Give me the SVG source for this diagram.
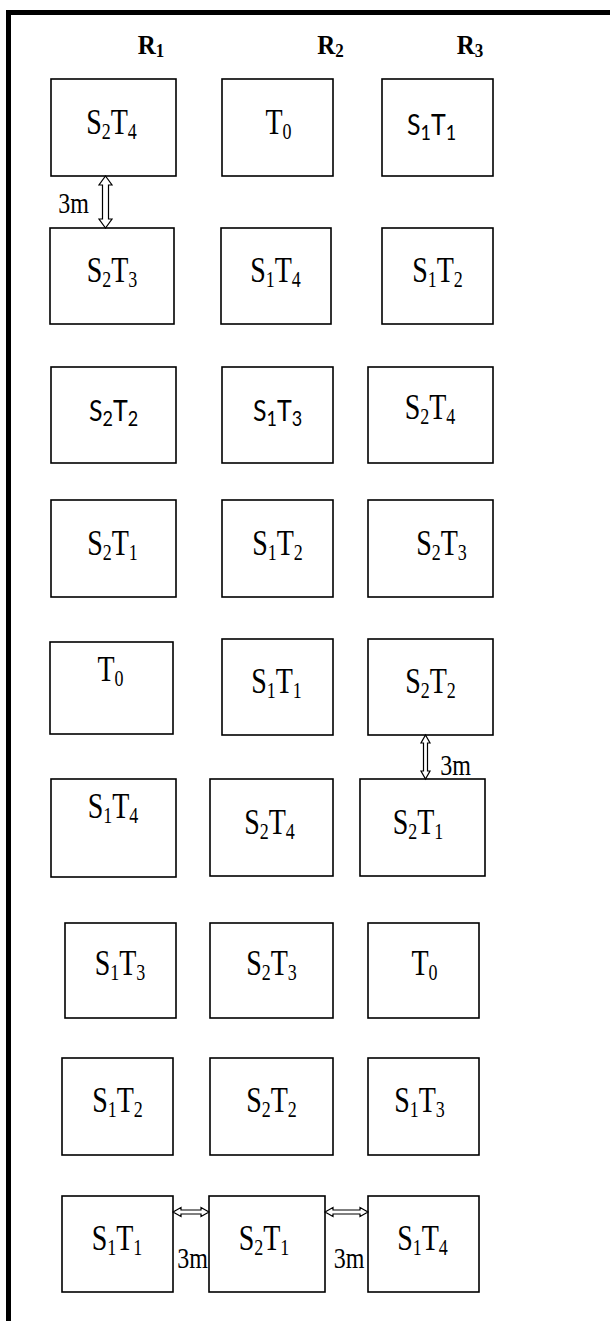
<svg xmlns="http://www.w3.org/2000/svg" width="610" height="1321" viewBox="0 0 610 1321">
<style>
.box{fill:#fff;stroke:#000;stroke-width:1.6}
.lbl{font-family:"Liberation Serif","Times New Roman",serif;font-size:28px;fill:#000}
.sans{font-family:Lato,"Liberation Sans",sans-serif;font-size:25px}
.sub{font-size:18px}
.hdr{font-family:"Liberation Serif","Times New Roman",serif;font-size:25px;font-weight:bold;fill:#000}
.hsub{font-size:17px}
.dim{font-family:"Liberation Serif","Times New Roman",serif;font-size:24px;fill:#000}
.arrow{fill:#fff;stroke:#000;stroke-width:1.2;stroke-linejoin:miter}
.frame{stroke:#000;stroke-width:5;fill:none}
</style>
<rect width="610" height="1321" fill="#fff"/>
<g id="frame">
<line class="frame" x1="6" y1="12.5" x2="610" y2="12.5"/>
<line class="frame" x1="8.5" y1="10" x2="8.5" y2="1321"/>
</g>
<g id="headers" text-anchor="middle">
<text class="hdr" transform="translate(151,54) scale(1,1.1)">R<tspan class="hsub" dy="3">1</tspan></text>
<text class="hdr" transform="translate(330.5,54) scale(1,1.1)">R<tspan class="hsub" dy="3">2</tspan></text>
<text class="hdr" transform="translate(470,54) scale(1,1.1)">R<tspan class="hsub" dy="3">3</tspan></text>
</g>
<g id="nodes" text-anchor="middle">
<g id="n1"><rect class="box" x="51" y="79" width="125" height="97"/><text class="lbl" transform="translate(111.5,134) scale(1,1.25)">S<tspan class="sub" dy="4">2</tspan><tspan dy="-4">T</tspan><tspan class="sub" dy="4">4</tspan></text></g>
<g id="n2"><rect class="box" x="222" y="79" width="111" height="97"/><text class="lbl" transform="translate(278.5,134) scale(1,1.25)">T<tspan class="sub" dy="4">0</tspan></text></g>
<g id="n3"><rect class="box" x="382" y="79" width="111" height="97"/><text class="lbl sans" transform="translate(431.5,135) scale(1,1.15)">S<tspan class="sub" dy="4">1</tspan><tspan dy="-4">T</tspan><tspan class="sub" dy="4">1</tspan></text></g>

<g id="n4"><rect class="box" x="50" y="228" width="124" height="96"/><text class="lbl" transform="translate(112,282) scale(1,1.25)">S<tspan class="sub" dy="4">2</tspan><tspan dy="-4">T</tspan><tspan class="sub" dy="4">3</tspan></text></g>
<g id="n5"><rect class="box" x="221" y="228" width="110" height="96"/><text class="lbl" transform="translate(275.5,282) scale(1,1.25)">S<tspan class="sub" dy="4">1</tspan><tspan dy="-4">T</tspan><tspan class="sub" dy="4">4</tspan></text></g>
<g id="n6"><rect class="box" x="382" y="228" width="111" height="96"/><text class="lbl" transform="translate(437.5,282) scale(1,1.25)">S<tspan class="sub" dy="4">1</tspan><tspan dy="-4">T</tspan><tspan class="sub" dy="4">2</tspan></text></g>

<g id="n7"><rect class="box" x="51" y="367" width="125" height="96"/><text class="lbl sans" transform="translate(113.5,421) scale(1,1.15)">S<tspan class="sub" dy="4">2</tspan><tspan dy="-4">T</tspan><tspan class="sub" dy="4">2</tspan></text></g>
<g id="n8"><rect class="box" x="222" y="367" width="111" height="96"/><text class="lbl sans" transform="translate(277.5,421) scale(1,1.15)">S<tspan class="sub" dy="4">1</tspan><tspan dy="-4">T</tspan><tspan class="sub" dy="4">3</tspan></text></g>
<g id="n9"><rect class="box" x="368" y="367" width="125" height="96"/><text class="lbl" transform="translate(430,419) scale(1,1.25)">S<tspan class="sub" dy="4">2</tspan><tspan dy="-4">T</tspan><tspan class="sub" dy="4">4</tspan></text></g>

<g id="n10"><rect class="box" x="51" y="500" width="125" height="97"/><text class="lbl" transform="translate(112.5,555) scale(1,1.25)">S<tspan class="sub" dy="4">2</tspan><tspan dy="-4">T</tspan><tspan class="sub" dy="4">1</tspan></text></g>
<g id="n11"><rect class="box" x="222" y="500" width="111" height="97"/><text class="lbl" transform="translate(277.5,555) scale(1,1.25)">S<tspan class="sub" dy="4">1</tspan><tspan dy="-4">T</tspan><tspan class="sub" dy="4">2</tspan></text></g>
<g id="n12"><rect class="box" x="368" y="500" width="125" height="97"/><text class="lbl" transform="translate(441.5,555) scale(1,1.25)">S<tspan class="sub" dy="4">2</tspan><tspan dy="-4">T</tspan><tspan class="sub" dy="4">3</tspan></text></g>

<g id="n13"><rect class="box" x="50" y="642" width="123" height="92"/><text class="lbl" transform="translate(110.5,681) scale(1,1.25)">T<tspan class="sub" dy="4">0</tspan></text></g>
<g id="n14"><rect class="box" x="222" y="639" width="111" height="96"/><text class="lbl" transform="translate(276.5,693) scale(1,1.25)">S<tspan class="sub" dy="4">1</tspan><tspan dy="-4">T</tspan><tspan class="sub" dy="4">1</tspan></text></g>
<g id="n15"><rect class="box" x="368" y="639" width="125" height="96"/><text class="lbl" transform="translate(430.5,693) scale(1,1.25)">S<tspan class="sub" dy="4">2</tspan><tspan dy="-4">T</tspan><tspan class="sub" dy="4">2</tspan></text></g>

<g id="n16"><rect class="box" x="51" y="779" width="125" height="98"/><text class="lbl" transform="translate(113,818) scale(1,1.25)">S<tspan class="sub" dy="4">1</tspan><tspan dy="-4">T</tspan><tspan class="sub" dy="4">4</tspan></text></g>
<g id="n17"><rect class="box" x="210" y="779" width="123" height="97"/><text class="lbl" transform="translate(269.5,834) scale(1,1.25)">S<tspan class="sub" dy="4">2</tspan><tspan dy="-4">T</tspan><tspan class="sub" dy="4">4</tspan></text></g>
<g id="n18"><rect class="box" x="360" y="779" width="125" height="97"/><text class="lbl" transform="translate(418,834) scale(1,1.25)">S<tspan class="sub" dy="4">2</tspan><tspan dy="-4">T</tspan><tspan class="sub" dy="4">1</tspan></text></g>

<g id="n19"><rect class="box" x="65" y="923" width="111" height="95"/><text class="lbl" transform="translate(120,975) scale(1,1.25)">S<tspan class="sub" dy="4">1</tspan><tspan dy="-4">T</tspan><tspan class="sub" dy="4">3</tspan></text></g>
<g id="n20"><rect class="box" x="210" y="923" width="123" height="95"/><text class="lbl" transform="translate(271.5,975) scale(1,1.25)">S<tspan class="sub" dy="4">2</tspan><tspan dy="-4">T</tspan><tspan class="sub" dy="4">3</tspan></text></g>
<g id="n21"><rect class="box" x="368" y="923" width="111" height="95"/><text class="lbl" transform="translate(424.5,975) scale(1,1.25)">T<tspan class="sub" dy="4">0</tspan></text></g>

<g id="n22"><rect class="box" x="62" y="1058" width="111" height="97"/><text class="lbl" transform="translate(117.5,1112) scale(1,1.25)">S<tspan class="sub" dy="4">1</tspan><tspan dy="-4">T</tspan><tspan class="sub" dy="4">2</tspan></text></g>
<g id="n23"><rect class="box" x="210" y="1058" width="123" height="97"/><text class="lbl" transform="translate(271.5,1112) scale(1,1.25)">S<tspan class="sub" dy="4">2</tspan><tspan dy="-4">T</tspan><tspan class="sub" dy="4">2</tspan></text></g>
<g id="n24"><rect class="box" x="368" y="1058" width="111" height="97"/><text class="lbl" transform="translate(419.5,1112) scale(1,1.25)">S<tspan class="sub" dy="4">1</tspan><tspan dy="-4">T</tspan><tspan class="sub" dy="4">3</tspan></text></g>

<g id="n25"><rect class="box" x="62" y="1196" width="111" height="96"/><text class="lbl" transform="translate(117,1250) scale(1,1.25)">S<tspan class="sub" dy="4">1</tspan><tspan dy="-4">T</tspan><tspan class="sub" dy="4">1</tspan></text></g>
<g id="n26"><rect class="box" x="209" y="1196" width="116" height="96"/><text class="lbl" transform="translate(264,1250) scale(1,1.25)">S<tspan class="sub" dy="4">2</tspan><tspan dy="-4">T</tspan><tspan class="sub" dy="4">1</tspan></text></g>
<g id="n27"><rect class="box" x="368" y="1196" width="111" height="96"/><text class="lbl" transform="translate(422.5,1250) scale(1,1.25)">S<tspan class="sub" dy="4">1</tspan><tspan dy="-4">T</tspan><tspan class="sub" dy="4">4</tspan></text></g>
</g>
<g id="connectors">
<path class="arrow" d="M105.5,176 L112,185 L108.5,185 L108.5,219 L112,219 L105.5,228 L99,219 L102.5,219 L102.5,185 L99,185 Z"/>
<path class="arrow" d="M425.5,735 L430,743 L427.5,743 L427.5,771 L430,771 L425.5,779 L421,771 L423.5,771 L423.5,743 L421,743 Z"/>
<path class="arrow" d="M173,1212 L181,1207.5 L181,1210 L201,1210 L201,1207.5 L209,1212 L201,1216.5 L201,1214 L181,1214 L181,1216.5 Z"/>
<path class="arrow" d="M325,1212 L333,1207.5 L333,1210 L360,1210 L360,1207.5 L368,1212 L360,1216.5 L360,1214 L333,1214 L333,1216.5 Z"/>
<g text-anchor="middle">
<text class="dim" transform="translate(73.5,213) scale(1,1.25)">3m</text>
<text class="dim" transform="translate(455.5,775) scale(1,1.25)">3m</text>
<text class="dim" transform="translate(192.5,1268) scale(1,1.25)">3m</text>
<text class="dim" transform="translate(349,1268) scale(1,1.25)">3m</text>
</g>
</g>
</svg>
